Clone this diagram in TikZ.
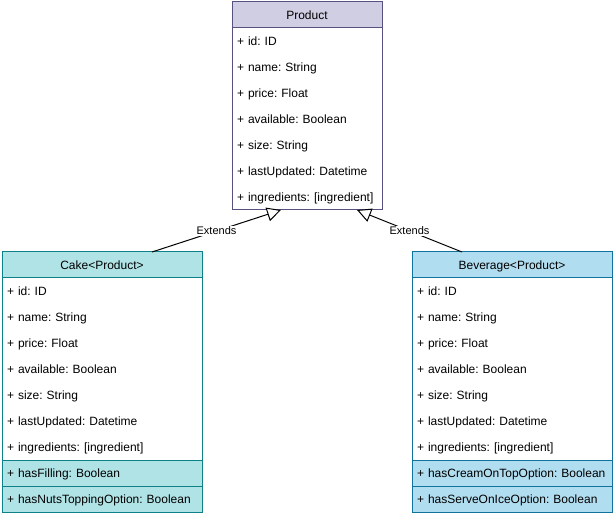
\documentclass[tikz,border=0pt]{standalone}
\usepackage{fontspec}
\setmainfont{Liberation Sans}
\usetikzlibrary{positioning,arrows.meta}
\definecolor{prodfill}{HTML}{D0CEE2}
\definecolor{prodline}{HTML}{56517E}
\definecolor{cakefill}{HTML}{B0E3E6}
\definecolor{cakeline}{HTML}{0E8088}
\definecolor{bevfill}{HTML}{B1DDF0}
\definecolor{bevline}{HTML}{10739E}
\def\basefields{+ id: ID, + name: String, + price: Float, + available: Boolean, + size: String, + lastUpdated: Datetime, + ingredients: [ingredient]}
\begin{document}
\begin{tikzpicture}[x=1pt,y=1pt]
                \tikzset{every node/.style={font=\fontsize{12}{14}\selectfont},
                    umlbox/.style={line width=1pt, minimum height=26pt, inner xsep=5pt, inner ysep=0pt, outer sep=0pt,
                        text height=8.6pt, text depth=0pt,
                        execute at begin node={\frenchspacing\hyphenpenalty=10000}},
                    umlrow/.style={umlbox, align=left},
                    umlhead/.style={umlbox, draw, align=center},
                    prodbox/.style={text width=140pt},
                    cakebox/.style={text width=190pt},
                    bevbox/.style={text width=190pt},
                    extends/.style={line width=1pt, -{Triangle[open, length=14pt, width=14pt, fill=white]}},
                    edgelabel/.style={fill=white, inner sep=1pt, font=\fontsize{11}{13}\selectfont}}
                \useasboundingbox (0,0) rectangle (615,-518);
                \node[umlhead, prodbox, draw=prodline, fill=prodfill, alias=product0] (product) at (307,-15) {Product};
                \foreach \f [count=\i] in \basefields {
                    \pgfmathtruncatemacro\j{\i-1}
                    \node[umlrow, prodbox, below=0pt of product\j] (product\i) {\f};
                }
                \draw[prodline, line width=1pt] (product.south west) rectangle (product7.south east);
                \node[umlhead, cakebox, draw=cakeline, fill=cakefill, alias=cake0] (cake) at (102,-265) {Cake<Product>};
                \foreach \f [count=\i] in \basefields {
                    \pgfmathtruncatemacro\j{\i-1}
                    \node[umlrow, cakebox, below=0pt of cake\j] (cake\i) {\f};
                }
                \draw[cakeline, line width=1pt] (cake.south west) rectangle (cake7.south east);
                \node[umlrow, cakebox, draw=cakeline, fill=cakefill, below=0pt of cake7] (cake8) {+ hasFilling: Boolean};
                \node[umlrow, cakebox, draw=cakeline, fill=cakefill, below=0pt of cake8] (cake9) {+ hasNutsToppingOption: Boolean};
                \node[umlhead, bevbox, draw=bevline, fill=bevfill, alias=bev0] (bev) at (512,-265) {Beverage<Product>};
                \foreach \f [count=\i] in \basefields {
                    \pgfmathtruncatemacro\j{\i-1}
                    \node[umlrow, bevbox, below=0pt of bev\j] (bev\i) {\f};
                }
                \draw[bevline, line width=1pt] (bev.south west) rectangle (bev7.south east);
                \node[umlrow, bevbox, draw=bevline, fill=bevfill, below=0pt of bev7] (bev8) {+ hasCreamOnTopOption: Boolean};
                \node[umlrow, bevbox, draw=bevline, fill=bevfill, below=0pt of bev8] (bev9) {+ hasServeOnIceOption: Boolean};
                \coordinate (caketop) at ([xshift=50pt]cake.north);
                \coordinate (bevtop) at ([xshift=-50pt]bev.north);
                \coordinate (prodleft) at ([xshift=49pt]product7.south west);
                \coordinate (prodright) at ([xshift=-25pt]product7.south east);
                \draw[extends] (caketop) -- node[edgelabel] {Extends} (prodleft);
                \draw[extends] (bevtop) -- node[edgelabel] {Extends} (prodright);
            \end{tikzpicture}
\end{document}
